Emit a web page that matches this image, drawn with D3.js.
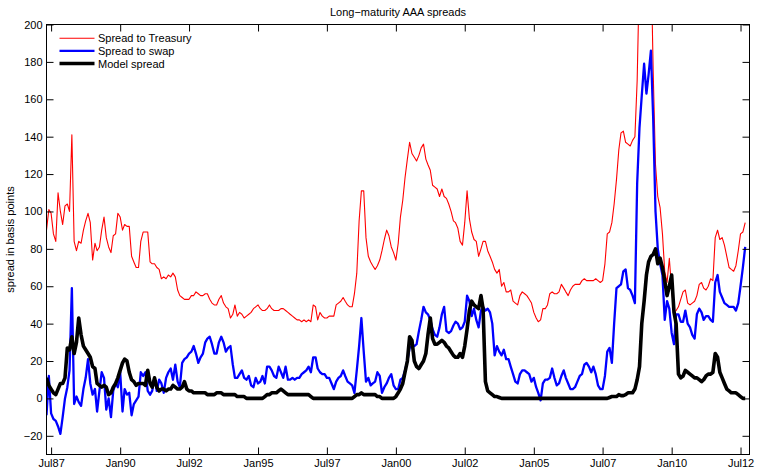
<!DOCTYPE html>
<html><head><meta charset="utf-8">
<script src="https://cdn.jsdelivr.net/npm/d3@7"></script>
<style>
body{margin:0;background:#fff}
svg text{font-family:"Liberation Sans",Arial,Helvetica,sans-serif;font-size:11px;fill:#000}
</style>
</head><body>
<svg id="chart" width="757" height="471"></svg>
<script>
const firstMonth = new Date(1987, 4, 1);   // May 1987
const lastMonthExcl = new Date(2012, 9, 1); // data through Sep 2012

const treasury = [90,101,99,88,84,110,100,93,103,104,
100,141,84,79,84,83,90,95,99,94,
74,83,79,81,90,97,86,81,78,87,
88,99,97,90,93,92,92,76,73,70,
70,84,89,89,89,73,72,72,70,69,
64,65,64,66,65,67,65,58,55,54,
53,53,53,55,55,57,56,55,55,56,
56,53,51,50,50,53,55,51,49,48,
43,45,50,44,46,45,43,44,45,46,
48,49,50,48,47,47,48,50,48,47,
47,47,48,48,47,46,45,44,43,42,
42,41,42,41,42,41,50,49,42,46,
44,43,43,44,44,44,50,51,52,54,
52,50,49,49,56,67,95,111,111,86,
76,73,71,69,71,74,79,85,90,87,
81,78,74,83,97,106,118,128,137,131,
129,127,130,134,136,128,125,122,114,113,
112,108,112,108,107,104,100,95,94,91,
84,82,94,111,96,89,85,84,76,80,
84,84,79,76,73,69,67,69,60,62,
57,57,58,52,51,50,55,57,56,55,
53,51,46,43,41,42,48,48,50,56,
57,56,56,57,61,59,57,55,58,60,
61,61,61,63,64,63,63,63,63,64,
63,62,63,72,88,89,94,104,117,133,
142,143,137,136,135,138,140,170,230,270,
300,280,260,240,175,125,108,102,88,68,
62,75,58,46,47,49,53,57,58,51,
50,51,52,55,61,62,59,58,60,64,
63,86,90,85,86,82,76,70,69,68,
71,79,88,89,94];

const swap = [-9,12,-8,-11,-12,-15,-19,-10,0,6,
15,59,-3,1,-2,-4,5,11,21,8,
2,5,-7,4,14,11,-6,0,-10,4,
8,6,14,-7,5,2,3,-9,-3,-1,
1,14,12,14,4,2,4,11,4,10,
8,3,11,14,16,10,18,9,6,19,
21,22,24,25,28,24,19,22,24,30,
32,33,29,24,24,30,33,30,25,27,
28,18,11,11,13,15,11,10,12,7,
6,11,8,9,12,8,17,17,15,12,
11,17,14,11,17,10,10,11,10,11,
11,13,14,15,17,14,22,22,16,14,
13,13,11,11,8,5,9,11,12,15,
12,9,8,7,3,15,28,43,25,9,
11,7,8,9,14,12,3,6,8,11,
13,7,5,5,10,11,15,20,27,28,
28,29,36,42,49,46,45,42,37,34,
33,38,45,49,36,35,36,39,41,40,
37,38,41,55,52,44,48,42,38,47,
49,47,48,46,40,23,28,25,23,26,
21,21,17,13,9,8,13,15,15,14,
13,9,11,6,3,-1,8,10,10,11,
16,11,7,8,12,15,11,8,5,5,
6,9,12,13,18,19,17,14,17,13,
7,5,5,12,25,27,19,40,59,60,
61,68,69,59,58,55,51,115,145,162,
179,163,173,186,150,100,80,72,66,42,
52,48,35,29,45,45,41,41,47,40,
38,34,32,45,48,46,42,44,44,42,
41,62,66,57,54,51,50,49,49,49,
47,51,60,70,81];

const model = [11,7,5,3,2,5,8,8,11,27,
26,33,24,30,43,34,28,26,24,22,
17,16,8,7,6,7,6,2,3,6,
8,11,15,19,21,20,14,10,9,7,
8,8,8,7,15,8,6,11,6,4,
5,5,4,5,5,7,6,5,5,6,
9,5,4,4,3,3,3,3,3,3,
2,2,2,2,3,3,3,2,2,2,
2,2,2,1,1,1,1,0,0,0,
0,0,0,0,0,1,2,2,3,3,
3,4,5,4,3,2,2,2,2,2,
2,2,2,2,2,1,0,0,0,0,
0,0,0,0,0,0,0,0,0,0,
0,0,0,0,1,2,2,3,2,2,
2,2,2,2,1,1,0,0,0,0,
0,0,1,3,5,8,14,20,33,31,
20,17,16,18,20,24,34,43,32,29,
29,30,31,30,28,27,25,23,22,22,
24,22,28,37,47,52,50,49,48,55,
48,9,4,3,2,1,1,0.5,0,0,
0,0,0,0,0,0,0,0,0,0,
0,0,0,0,0,0,0,0,0,0,
0,0,0,0,0,0,0,0,0,0,
0,0,0,0,0,0,0,0,0,0,
0,0,0,0,0,0.5,1,1,1,2,
1.5,1.5,2,3,3,3,5,10,17,40,
52,66,73,76,77,80,72,75,70,63,
55,60,66,46,40,13,11,12,15,14,
13,12,11,11,10,9,10,12,13,13,
14,24,22,14,11,8,5,4,3,3,
3,2,1,0,0];

const xTickLabels = ["Jul87","Jan90","Jul92","Jan95","Jul97","Jan00","Jul02","Jan05","Jul07","Jan10","Jul12"];
const xTickDates = [new Date(1987,6,1),new Date(1990,0,1),new Date(1992,6,1),new Date(1995,0,1),new Date(1997,6,1),
  new Date(2000,0,1),new Date(2002,6,1),new Date(2005,0,1),new Date(2007,6,1),new Date(2010,0,1),new Date(2012,6,1)];
const yTicks = [-20,0,20,40,60,80,100,120,140,160,180,200];
const seriesNames = ["Spread to Treasury","Spread to swap","Model spread"];
const seriesColors = ["#ff0000","#0000ff","#000000"];
const seriesWidths = [1.1,2.3,3.6];

const months = d3.timeMonth.range(firstMonth, lastMonthExcl);

const L = 46.5, R = 749.5, T = 24.5, B = 454.5, TICK = 7;
const x = d3.scaleTime().domain([firstMonth, new Date(2012,9,28)]).range([L, R]);
const y = d3.scaleLinear().domain([-30, 200]).range([B, T]);

const svg = d3.select("#chart");
svg.append("rect").attr("width",757).attr("height",471).attr("fill","#fff");

svg.append("defs").append("clipPath").attr("id","plotclip")
  .append("rect").attr("x",L).attr("y",T).attr("width",R-L).attr("height",B-T);

const plot = svg.append("g").attr("clip-path","url(#plotclip)");
const allSeries = [treasury, swap, model];
allSeries.forEach((vals, k) => {
  const line = d3.line().x((d,i)=>x(months[i])).y(d=>y(d));
  plot.append("path").datum(vals)
    .attr("fill","none").attr("stroke",seriesColors[k]).attr("stroke-width",seriesWidths[k])
    .attr("stroke-linejoin","round").attr("d",line);
});

// axes (MATLAB-style box with inward ticks)
const axB = d3.axisBottom(x).tickValues(xTickDates).tickFormat((d,i)=>xTickLabels[i]).tickSizeInner(-TICK).tickSizeOuter(0).tickPadding(4.5);
const axT = d3.axisTop(x).tickValues(xTickDates).tickFormat("").tickSizeInner(-TICK).tickSizeOuter(0);
const axL = d3.axisLeft(y).tickValues(yTicks).tickFormat(d=>d<0?"\u2212"+Math.abs(d):String(d)).tickSizeInner(-TICK).tickSizeOuter(0).tickPadding(4);
const axR = d3.axisRight(y).tickValues(yTicks).tickFormat("").tickSizeInner(-TICK).tickSizeOuter(0);

function styleAxis(g){
  g.select(".domain").remove();
  g.selectAll("line").attr("stroke","#000").attr("stroke-width",1);
  g.selectAll("text").attr("font-family",null).attr("font-size",null).attr("fill","#000");
}
svg.append("g").attr("transform",`translate(0,${B})`).call(axB).call(styleAxis);
svg.append("g").attr("transform",`translate(0,${T})`).call(axT).call(styleAxis);
svg.append("g").attr("transform",`translate(${L},0)`).call(axL).call(styleAxis);
svg.append("g").attr("transform",`translate(${R},0)`).call(axR).call(styleAxis);

svg.append("rect").attr("x",L).attr("y",T).attr("width",R-L).attr("height",B-T)
  .attr("fill","none").attr("stroke","#000").attr("stroke-width",1);

// title & y label
svg.append("text").attr("x",(L+R)/2).attr("y",16).attr("text-anchor","middle")
  .text("Long\u2212maturity AAA spreads");
svg.append("text").attr("transform",`translate(13.5,${(T+B)/2}) rotate(-90)`).attr("text-anchor","middle")
  .text("spread in basis points");

// legend
const leg = svg.append("g");
seriesNames.forEach((name,k)=>{
  const ly = 38.3 + k*12.6;
  leg.append("line").attr("x1",59.5).attr("x2",94.5).attr("y1",ly).attr("y2",ly)
    .attr("stroke",seriesColors[k]).attr("stroke-width",seriesWidths[k]);
  leg.append("text").attr("x",98).attr("y",ly+4).text(name);
});
</script>
</body></html>
